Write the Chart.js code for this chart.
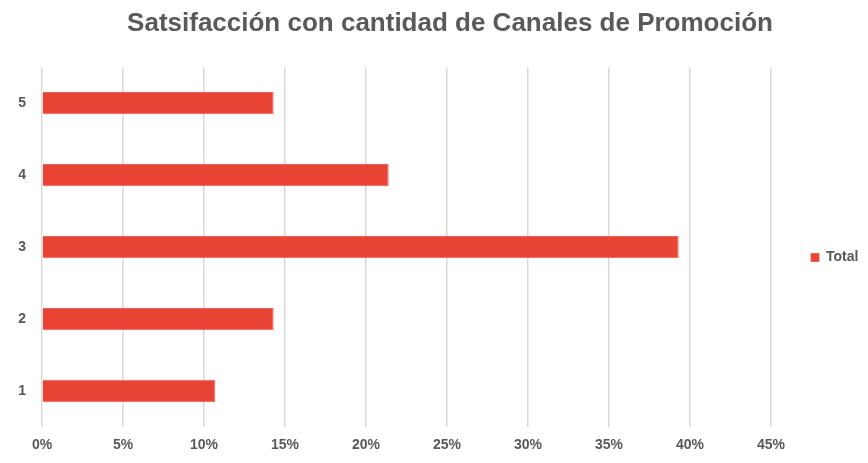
<!DOCTYPE html>
<html>
<head>
<meta charset="utf-8">
<script src="https://cdn.jsdelivr.net/npm/chart.js@4/dist/chart.umd.min.js"></script>
<style>
html,body{margin:0;padding:0;background:#fff;}
#wrap{width:868px;height:463px;position:relative;}
</style>
</head>
<body>
<div id="wrap"><canvas id="c" width="868" height="463"></canvas></div>
<script>
const categories = ['5', '4', '3', '2', '1'];
const totalValues = [14.3, 21.4, 39.3, 14.3, 10.7];
const seriesName = 'Total';
const tickValues = [0, 5, 10, 15, 20, 25, 30, 35, 40, 45];
const chartTitle = 'Satsifacción con cantidad de Canales de Promoción';

const grey = '#595959';
const font = 'Liberation Sans, Arial, sans-serif';

const boxShift = {
  id: 'boxShift',
  afterLayout(chart) {
    const lg = chart.legend;
    if (lg) { lg.top += 22; lg.bottom += 22; }
    const tb = chart.titleBlock;
    if (tb) { tb.left += 32; }
  }
};

new Chart(document.getElementById('c'), {
  type: 'bar',
  data: {
    labels: categories,
    datasets: [{
      label: seriesName,
      data: totalValues,
      backgroundColor: '#E94336',
      borderColor: '#EE6257',
      borderWidth: 1,
      borderSkipped: 'start',
      barPercentage: 0.31,
      categoryPercentage: 1
    }]
  },
  plugins: [boxShift],
  options: {
    indexAxis: 'y',
    responsive: false,
    animation: false,
    layout: { padding: { top: 8, right: 0, bottom: 0, left: 0 } },
    plugins: {
      title: {
        display: true,
        text: chartTitle,
        color: grey,
        font: { family: font, size: 26, weight: 'bold' },
        padding: { top: 0, bottom: 28 }
      },
      legend: {
        position: 'right',
        align: 'center',
        maxWidth: 97,
        labels: {
          color: grey,
          boxWidth: 8,
          boxHeight: 8,
          padding: 40,
          font: { family: font, size: 14, weight: 'bold' }
        }
      },
      tooltip: { enabled: false }
    },
    scales: {
      x: {
        min: 0,
        max: 45,
        afterBuildTicks: (axis) => { axis.ticks = tickValues.map(v => ({ value: v })); },
        afterFit: (axis) => { axis.height = 36; },
        grid: { color: '#D9D9D9', lineWidth: 1.5, drawTicks: false },
        border: { display: false },
        ticks: {
          color: grey,
          padding: 10,
          font: { family: font, size: 14, weight: 'bold' },
          callback: (v) => v + '%'
        }
      },
      y: {
        afterFit: (axis) => { axis.width = 42; },
        grid: { display: false, drawTicks: false },
        border: { display: false },
        ticks: {
          color: grey,
          padding: 16,
          font: { family: font, size: 14, weight: 'bold' }
        }
      }
    }
  }
});
</script>
</body>
</html>
